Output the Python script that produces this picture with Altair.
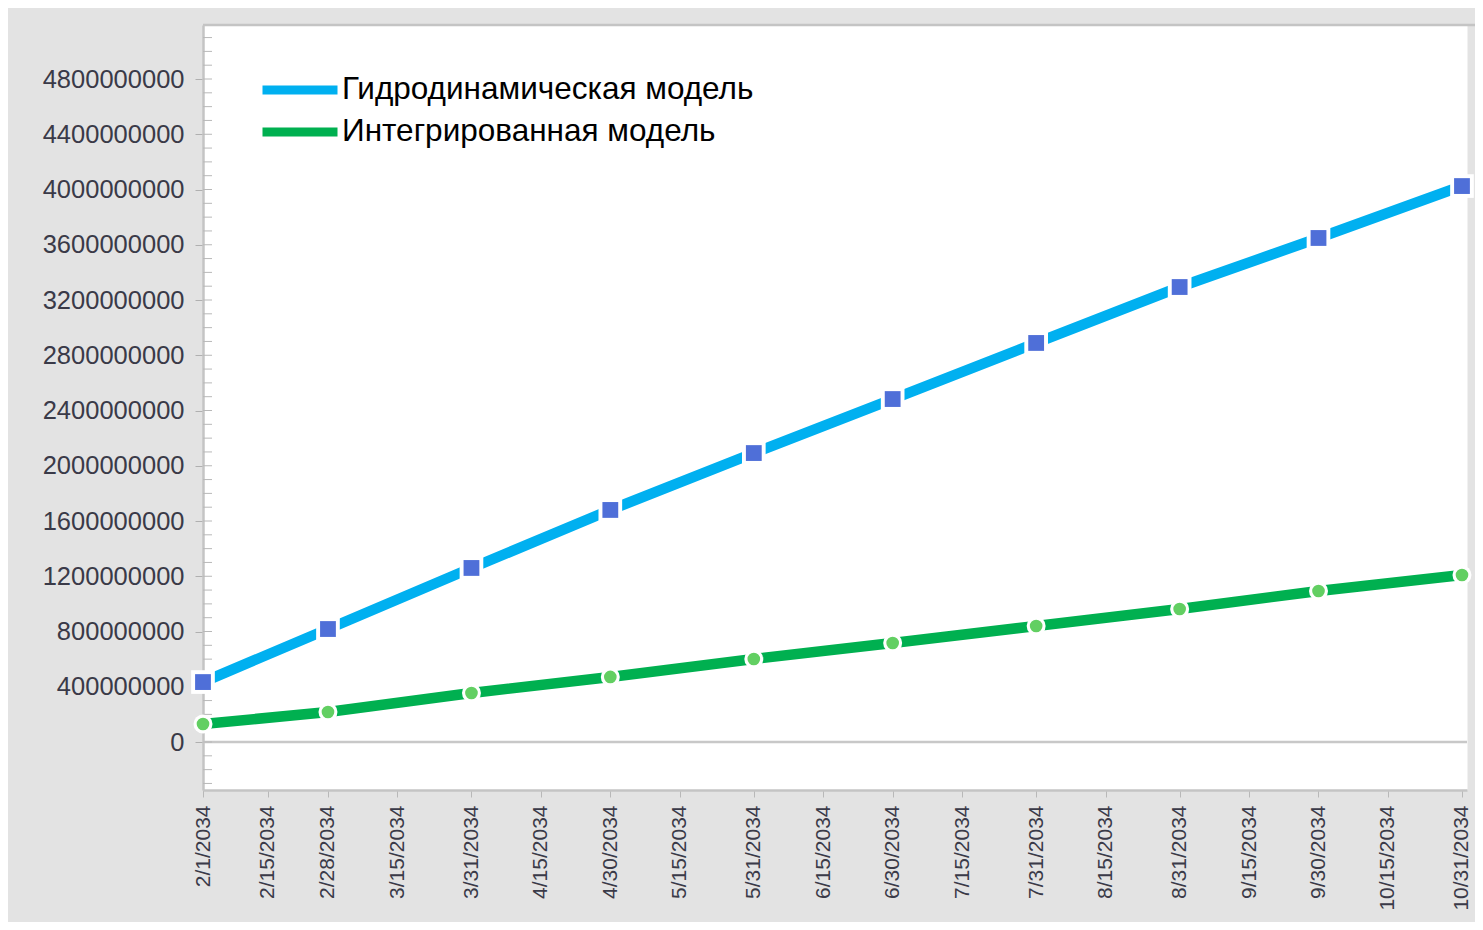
import altair as alt
import pandas as pd

# ---- data ----
series_names = ["Гидродинамическая модель", "Интегрированная модель"]
dates = ["2034-02-01", "2034-02-28", "2034-03-31", "2034-04-30", "2034-05-31",
         "2034-06-30", "2034-07-31", "2034-08-31", "2034-09-30", "2034-10-31",
         "2034-11-30"]
hydro = [434000000, 818000000, 1260000000, 1680000000, 2092000000,
         2483000000, 2889000000, 3294000000, 3649000000, 4025000000,
         4400000000]
integ = [130000000, 217000000, 355000000, 471000000, 601000000,
         717000000, 840000000, 963000000, 1093000000, 1209000000,
         1330000000]
# markers shown at every point inside the visible range
show_marker = [True, True, True, True, True, True, True, True, True, True, False]
y_ticks = [0, 400000000, 800000000, 1200000000, 1600000000, 2000000000,
           2400000000, 2800000000, 3200000000, 3600000000, 4000000000,
           4400000000, 4800000000]
minor_ticks = [i * 100000000 for i in range(-3, 52)]
x_tick_dates = [(2, 1), (2, 15), (2, 28), (3, 15), (3, 31), (4, 15), (4, 30),
                (5, 15), (5, 31), (6, 15), (6, 30), (7, 15), (7, 31), (8, 15),
                (8, 31), (9, 15), (9, 30), (10, 15), (10, 31)]

colors = ["#00b0f0", "#00b050"]
marker_colors = ["#4f6fd8", "#62cf62"]

rows = []
for d, h, g, m in zip(dates, hydro, integ, show_marker):
    rows.append({"date": d + "T00:00:00", "value": h, "series": series_names[0], "marker": m})
    rows.append({"date": d + "T00:00:00", "value": g, "series": series_names[1], "marker": m})
df = pd.DataFrame(rows)

PLOT_W = 1264
x_scale = alt.Scale(domain=[alt.DateTime(year=2034, month=2, date=1),
                            alt.DateTime(year=2034, month=11, date=1, hours=2)],
                    nice=False)
y_scale = alt.Scale(domain=[-347500000, 5191000000], nice=False, zero=False)

x_enc = alt.X("date:T", scale=x_scale, title=None,
              axis=alt.Axis(values=[alt.DateTime(year=2034, month=m, date=d) for m, d in x_tick_dates],
                            format="%-m/%-d/%Y", labelAngle=-90, labelFontSize=21,
                            labelFont="Liberation Sans", labelColor="#3a3a48",
                            labelPadding=8, tickSize=7, tickColor="#b8b8b8",
                            domainColor="#c4c4c4", domainWidth=2.5, grid=False,
                            labelOverlap=False, labelBound=False, labelFlush=False))
y_enc = alt.Y("value:Q", scale=y_scale, title=None,
              axis=alt.Axis(values=y_ticks, format="d", labelFontSize=25.5,
                            labelFont="Liberation Sans", labelColor="#3a3a48",
                            labelPadding=11, tickSize=8, tickColor="#b0b0b0",
                            domainColor="#c4c4c4", domainWidth=2.5, grid=False,
                            labelOverlap=False))

base = alt.Chart(df)

color_scale = alt.Scale(domain=series_names, range=colors)

lines = base.mark_line(strokeWidth=10.5, clip=True).encode(
    x=x_enc, y=y_enc,
    color=alt.Color("series:N", scale=color_scale, title=None,
                    legend=alt.Legend(orient="none", legendX=55, legendY=44,
                                      symbolType="stroke", symbolSize=5625,
                                      symbolStrokeWidth=9, labelFontSize=31.5,
                                      labelFont="Liberation Sans",
                                      labelColor="#000000", labelOffset=0,
                                      clipHeight=42, rowPadding=0, padding=0,
                                      labelLimit=800)),
)

pts = base.transform_filter(alt.datum.marker)

halo_sq = pts.transform_filter(alt.datum.series == series_names[0]).mark_point(
    shape="square", filled=True, size=560, color="white", opacity=1).encode(x="date:T", y="value:Q")
sq = pts.transform_filter(alt.datum.series == series_names[0]).mark_point(
    shape="square", filled=True, size=250, color=marker_colors[0], opacity=1).encode(x="date:T", y="value:Q")
halo_c = pts.transform_filter(alt.datum.series == series_names[1]).mark_point(
    shape="circle", filled=True, size=360, color="white", opacity=1).encode(x="date:T", y="value:Q")
circ = pts.transform_filter(alt.datum.series == series_names[1]).mark_point(
    shape="circle", filled=True, size=160, color=marker_colors[1], opacity=1).encode(x="date:T", y="value:Q")

zero_df = pd.DataFrame({"v": [0]})
zero_line = alt.Chart(zero_df).mark_rule(color="#c8c8c8", strokeWidth=2.5).encode(y=alt.Y("v:Q", scale=y_scale))

minor_df = pd.DataFrame({"v": minor_ticks})
minor = alt.Chart(minor_df).mark_rule(color="#b8b8b8", strokeWidth=1).encode(
    y=alt.Y("v:Q", scale=y_scale), x=alt.value(0), x2=alt.value(9))

top_border = alt.Chart(zero_df).mark_rule(color="#c4c4c4", strokeWidth=2.5).encode(
    y=alt.value(0), x=alt.value(0), x2=alt.value(PLOT_W + 8))

chart = alt.layer(zero_line, minor, top_border, lines, halo_sq, sq, halo_c, circ).properties(
    width=PLOT_W, height=765,
    autosize=alt.AutoSizeParams(type="none"),
    padding={"left": 195, "top": 17, "right": 8, "bottom": 132},
    background="#e3e3e3",
).configure_view(stroke="transparent", fill="white")

chart.save("out.html", embed_options={"renderer": "svg", "actions": False})
